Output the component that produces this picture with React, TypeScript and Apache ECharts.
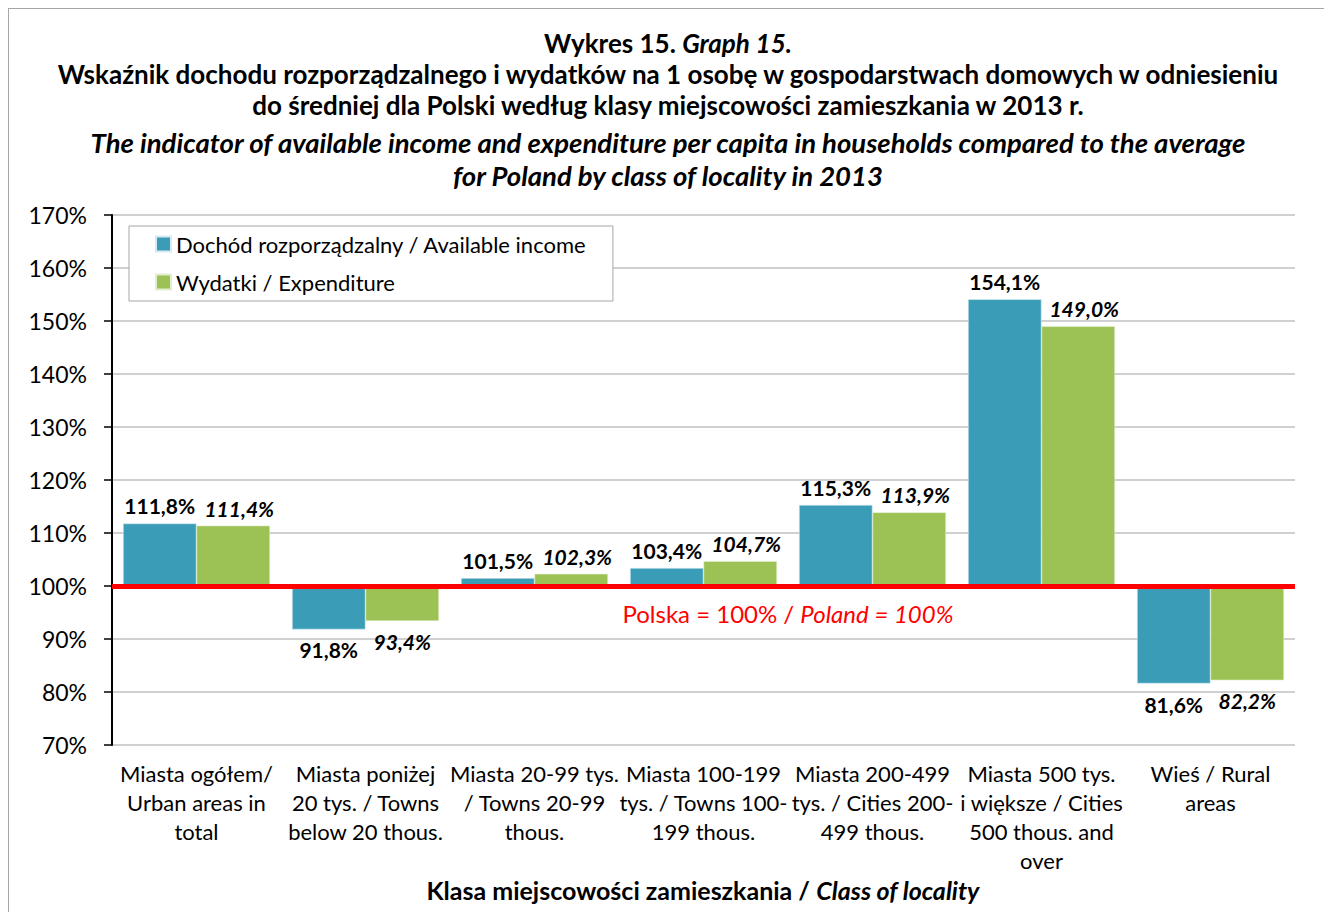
import React, { useEffect, useRef } from "react";
import * as echarts from "echarts";

const categories = [
  "Miasta ogółem/\nUrban areas in\ntotal",
  "Miasta poniżej\n20 tys. / Towns\nbelow 20 thous.",
  "Miasta 20-99 tys.\n/ Towns 20-99\nthous.",
  "Miasta 100-199\ntys. / Towns 100-\n199 thous.",
  "Miasta 200-499\ntys. / Cities 200-\n499 thous.",
  "Miasta 500 tys.\ni większe / Cities\n500 thous. and\nover",
  "Wieś / Rural\nareas",
];
const incomeValues = [111.8, 91.8, 101.5, 103.4, 115.3, 154.1, 81.6];
const expenditureValues = [111.4, 93.4, 102.3, 104.7, 113.9, 149.0, 82.2];
const seriesNames = ["Dochód rozporządzalny / Available income", "Wydatki / Expenditure"];
const baseline = 100;
const yTicks = { min: 70, max: 170, step: 10 };

const FONT = "Lato, 'Open Sans', sans-serif";

const fmt = (v: number) => v.toFixed(1).replace(".", ",") + "%";

function buildData(values: number[], topOffset: number) {
  return values.map((v) => ({
    value: +(v - baseline).toFixed(2),
    label:
      v >= baseline
        ? { position: "top", distance: 7, offset: [topOffset, 0] }
        : { position: "bottom", distance: 10, offset: [0, 0] },
  }));
}

export default function App() {
  const ref = useRef<HTMLDivElement>(null);
  useEffect(() => {
    if (!ref.current) return;
    const chart = echarts.init(ref.current, null, { renderer: "svg" });
    const cx = 659;
    const titleBold = { fontFamily: FONT, fontSize: 26, fontWeight: "bold", fill: "#000" };
    const titleItalic = { ...titleBold, fontSize: 27.5, fontStyle: "italic" };
    chart.setOption({
      animation: false,
      textStyle: { fontFamily: FONT },
      graphic: [
        {
          type: "text",
          x: cx,
          y: 34,
          style: {
            text: "{b|Wykres 15. }{bi|Graph 15.}",
            align: "center",
            verticalAlign: "middle",
            rich: {
              b: titleBold,
              bi: { ...titleBold, fontStyle: "italic" },
            },
          },
        },
        {
          type: "text",
          x: cx,
          y: 65,
          style: {
            text: "Wskaźnik dochodu rozporządzalnego i wydatków na 1 osobę w gospodarstwach domowych w odniesieniu",
            align: "center",
            verticalAlign: "middle",
            ...titleBold,
          },
        },
        {
          type: "text",
          x: cx,
          y: 96,
          style: {
            text: "do średniej dla Polski według klasy miejscowości zamieszkania w 2013 r.",
            align: "center",
            verticalAlign: "middle",
            ...titleBold,
          },
        },
        {
          type: "text",
          x: cx,
          y: 133,
          style: {
            text: "The indicator of available income and expenditure per capita in households compared to the average",
            align: "center",
            verticalAlign: "middle",
            ...titleItalic,
          },
        },
        {
          type: "text",
          x: cx,
          y: 166,
          style: {
            text: "for Poland by class of locality in 2013",
            align: "center",
            verticalAlign: "middle",
            ...titleItalic,
          },
        },
        {
          type: "text",
          x: 779,
          y: 604,
          z: 10,
          style: {
            text: "{n|Polska = 100% / }{i|Poland = 100%}",
            align: "center",
            verticalAlign: "middle",
            rich: {
              n: { fontFamily: FONT, fontSize: 24, fill: "#ff0000" },
              i: { fontFamily: FONT, fontSize: 24, fontStyle: "italic", fill: "#ff0000" },
            },
          },
        },
        {
          type: "text",
          x: 694,
          y: 881,
          style: {
            text: "{b|Klasa miejscowości zamieszkania / }{bi|Class of locality}",
            align: "center",
            verticalAlign: "middle",
            rich: {
              b: { fontFamily: FONT, fontSize: 25, fontWeight: "bold", fill: "#000" },
              bi: { fontFamily: FONT, fontSize: 25, fontWeight: "bold", fontStyle: "italic", fill: "#000" },
            },
          },
        },
      ],
      legend: {
        orient: "vertical",
        left: 120,
        top: 217,
        padding: [7, 26, 8, 26],
        itemGap: 16,
        itemWidth: 15,
        itemHeight: 15,
        icon: "rect",
        backgroundColor: "#fff",
        borderColor: "#a6a6a6",
        borderWidth: 1,
        textStyle: { fontFamily: FONT, fontSize: 22, color: "#000" },
        data: seriesNames,
      },
      grid: { left: 103, top: 206, width: 1183, height: 530, containLabel: false },
      xAxis: {
        type: "category",
        data: categories,
        axisLine: { show: false, onZero: false },
        axisTick: { show: false },
        axisLabel: {
          interval: 0,
          margin: 14,
          fontFamily: FONT,
          fontSize: 22,
          lineHeight: 29,
          color: "#000",
          verticalAlign: "top",
        },
        splitLine: { show: false },
      },
      yAxis: {
        type: "value",
        min: yTicks.min - baseline,
        max: yTicks.max - baseline,
        interval: yTicks.step,
        axisLine: { show: true, onZero: false, lineStyle: { color: "#000", width: 2 } },
        axisTick: { show: true, length: 8, lineStyle: { color: "#000", width: 1.5 } },
        axisLabel: {
          margin: 25,
          fontFamily: FONT,
          fontSize: 23,
          color: "#000",
          formatter: (v: number) => `${Math.round(v + baseline)}%`,
        },
        splitLine: { show: true, lineStyle: { color: "#c0c0c0", width: 1.5 } },
      },
      series: [
        {
          name: seriesNames[0],
          type: "bar",
          barGap: "0%",
          barCategoryGap: "13%",
          data: buildData(incomeValues, 0),
          itemStyle: { color: "#3a9cb6", borderColor: "#d6ecf2", borderWidth: 0.6 },
          label: {
            show: true,
            fontFamily: FONT,
            fontSize: 21,
            fontWeight: "bold",
            color: "#000",
            formatter: (p: any) => fmt(incomeValues[p.dataIndex]),
          },
          markLine: {
            silent: true,
            symbol: "none",
            label: { show: false },
            lineStyle: { color: "#ff0000", width: 5, type: "solid" },
            data: [{ yAxis: 0 }],
            z: 5,
          },
        },
        {
          name: seriesNames[1],
          type: "bar",
          data: buildData(expenditureValues, 6),
          itemStyle: { color: "#9cc255", borderColor: "#e2efcf", borderWidth: 0.6 },
          label: {
            show: true,
            fontFamily: FONT,
            fontSize: 21,
            fontWeight: "bold",
            fontStyle: "italic",
            color: "#000",
            formatter: (p: any) => fmt(expenditureValues[p.dataIndex]),
          },
        },
      ],
    });
    return () => chart.dispose();
  }, []);
  return (
    <div
      style={{
        width: 1318,
        height: 910,
        border: "1px solid #a6a6a6",
      }}
    >
      <div ref={ref} style={{ width: 1318, height: 910 }} />
    </div>
  );
}
